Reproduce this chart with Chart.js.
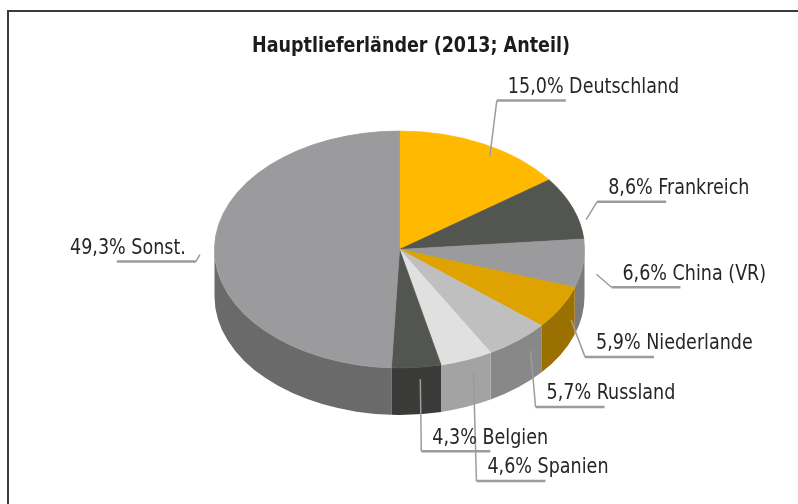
<!DOCTYPE html>
<html>
<head>
<meta charset="utf-8">
<script src="https://cdn.jsdelivr.net/npm/chart.js@4.4.1/dist/chart.umd.min.js"></script>
<style>
    html, body { margin: 0; padding: 0; background: #fff; }
    #wrap { position: relative; width: 798px; height: 504px; overflow: hidden; }
    #frame { position: absolute; left: 7px; top: 10px; width: 800px; height: 500px;
             border-left: 2px solid #3a3a3a; border-top: 2px solid #3a3a3a; pointer-events: none; }
    canvas { position: absolute; left: 0; top: 0; }
</style>
</head>
<body>
<div id="wrap">
    <canvas id="pieChart" width="798" height="504"></canvas>
    <div id="frame"></div>
</div>
<script>
// data
const categories = ['Deutschland', 'Frankreich', 'China (VR)', 'Niederlande', 'Russland', 'Spanien', 'Belgien', 'Sonst.'];
const shares = [15.0, 8.6, 6.6, 5.9, 5.7, 4.6, 4.3, 49.3];
const chartTitle = 'Hauptlieferländer (2013; Anteil)';

// colours of top face and of the rim
const topColors = ['#ffb900', '#535551', '#9b9a9c', '#dea300', '#bfbfbf', '#e0e0e0', '#535551', '#9b9a9c'];
const sideColors = ['#b38200', '#3a3b38', '#7b7a7c', '#9a7000', '#888888', '#a3a3a3', '#3a3b38', '#6b6a6b'];

// 3d look
const tilt = 0.64;
const depth = 47;

// label leader placement: t = position inside slice, r = radius factor,
// drop = px down the rim, dx/dy = elbow offset from anchor
const labelLayout = [
    { t: 0.59, r: 0.925, drop: 0, dx: 7, dy: -56 },
    { t: 0.71, r: 1.04, drop: 0, dx: 11, dy: -18 },
    { t: 0.68, r: 1.085, drop: 0, dx: 15, dy: 13 },
    { t: 0.155, r: 1.0, drop: 26, dx: 14, dy: 37 },
    { t: 0.24, r: 1.0, drop: 18, dx: 5, dy: 56 },
    { t: 0.36, r: 1.0, drop: 14, dx: 3, dy: 109 },
    { t: 0.42, r: 1.0, drop: 12, dx: 1, dy: 72 },
    { t: 0.48, r: 1.08, drop: 0, dx: -4, dy: 7, left: true }
];

const labelFont = '19.5px "DejaVu Sans Condensed", "DejaVu Sans", sans-serif';
const titleFont = 'bold 19.5px "DejaVu Sans Condensed", "DejaVu Sans", sans-serif';

function formatShare(v) {
    return v.toFixed(1).replace('.', ',') + '%';
}

function stretchedText(ctx, text, x, y, align) {
    ctx.save();
    ctx.translate(x, y);
    ctx.scale(1, 1.06);
    ctx.textAlign = align;
    ctx.textBaseline = 'middle';
    ctx.fillText(text, 0, 0);
    ctx.restore();
}

const pie3d = {
    id: 'pie3d',
    beforeDatasetsDraw(chart) {
        const ctx = chart.ctx;
        const arcs = chart.getDatasetMeta(0).data;
        if (!arcs.length) return;
        const cx = arcs[0].x;
        const cy = arcs[0].y;

        // rim: only the front half (canvas angles 0..PI) is visible
        arcs.forEach((arc, i) => {
            const R = arc.outerRadius;
            const a = Math.max(arc.startAngle, 0);
            const b = Math.min(arc.endAngle, Math.PI);
            if (a >= b) return;
            ctx.beginPath();
            ctx.ellipse(cx, cy, R, R * tilt, 0, a, b, false);
            ctx.ellipse(cx, cy + depth, R, R * tilt, 0, b, a, true);
            ctx.closePath();
            ctx.fillStyle = sideColors[i];
            ctx.fill();
        });

        // squash the pie drawn by Chart.js into an ellipse
        ctx.save();
        ctx.translate(0, cy);
        ctx.scale(1, tilt);
        ctx.translate(0, -cy);
    },
    afterDatasetsDraw(chart) {
        const ctx = chart.ctx;
        ctx.restore();

        const arcs = chart.getDatasetMeta(0).data;
        ctx.save();
        ctx.fillStyle = '#1c1c1c';
        ctx.font = titleFont;
        stretchedText(ctx, chartTitle, 411, 47, 'center');

        ctx.font = labelFont;
        arcs.forEach((arc, i) => {
            const lay = labelLayout[i];
            const R = arc.outerRadius * lay.r;
            const ang = arc.startAngle + lay.t * (arc.endAngle - arc.startAngle);
            const ax = arc.x + R * Math.cos(ang);
            const ay = arc.y + R * tilt * Math.sin(ang) + lay.drop;
            const ex = ax + lay.dx;
            const ey = ay + lay.dy;
            const lineEnd = lay.left ? ex - 79 : ex + 69;

            ctx.strokeStyle = '#9c9c9c';
            ctx.lineWidth = 1.5;
            ctx.beginPath();
            ctx.moveTo(ax, ay);
            ctx.lineTo(ex, ey);
            ctx.stroke();

            ctx.lineWidth = 2.5;
            ctx.beginPath();
            ctx.moveTo(ex, ey);
            ctx.lineTo(lineEnd, ey);
            ctx.stroke();

            const text = formatShare(shares[i]) + ' ' + categories[i];
            ctx.fillStyle = '#262626';
            if (lay.left) {
                stretchedText(ctx, text, ex - 10, ey - 13, 'right');
            } else {
                stretchedText(ctx, text, ex + 11, ey - 13, 'left');
            }
        });
        ctx.restore();
    }
};

const chart = new Chart(document.getElementById('pieChart').getContext('2d'), {
    type: 'pie',
    data: {
        labels: categories,
        datasets: [{
            data: shares,
            backgroundColor: topColors,
            borderColor: topColors,
            borderWidth: 1,
            hoverOffset: 0,
            offset: 0,
            clip: false
        }]
    },
    options: {
        responsive: false,
        animation: false,
        events: [],
        layout: {
            padding: { left: 214, right: 213, top: 64, bottom: 69 }
        },
        plugins: {
            legend: { display: false },
            tooltip: { enabled: false },
            title: { display: false }
        }
    },
    plugins: [pie3d]
});
</script>
</body>
</html>
